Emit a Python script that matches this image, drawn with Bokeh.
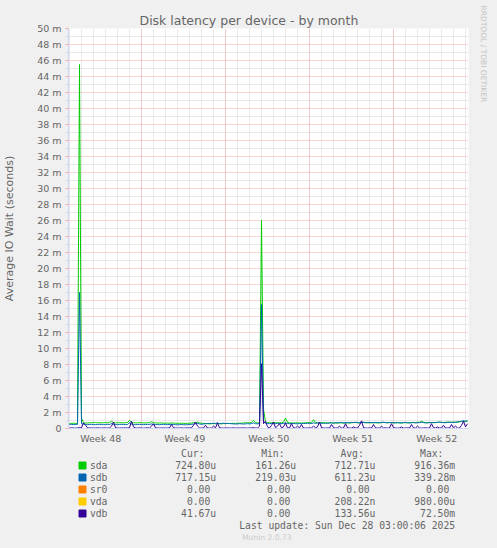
from bokeh.plotting import figure
from bokeh.layouts import column
from bokeh.models import (Range1d, FixedTicker, Title, ColumnDataSource,
                          GlobalInlineStyleSheet)
from bokeh.core.properties import value
from bokeh.embed import file_html
from bokeh.resources import INLINE

# ---------------- data ----------------
# time axis: days since 2025-11-24 00:00, one sample every 4 hours
T_START = 1.0
T_STEP = 1.0 / 6.0
X_MIN, X_MAX = 11.0 / 12.0, 34.25

# values in milliseconds (axis shows seconds with "m" prefix)
sda = [
    0.62, 0.64, 0.66, 0.63, 0.65, 45.5, 1.30, 0.72, 0.68, 0.70,
    0.70, 0.74, 0.72, 0.75, 0.71, 0.73, 0.70, 0.72, 0.74, 0.71,
    0.76, 0.92, 0.74, 0.70, 0.72, 0.71, 0.73, 0.70, 0.72, 0.75,
    1.02, 0.78, 0.72, 0.70, 0.71, 0.74, 0.72, 0.69, 0.70, 0.73,
    0.72, 0.86, 0.74, 0.70, 0.68, 0.69, 0.70, 0.66, 0.68, 0.67,
    0.66, 0.70, 0.68, 0.65, 0.66, 0.64, 0.66, 0.65, 0.63, 0.64,
    0.66, 0.68, 0.72, 0.70, 0.82, 0.70, 0.66, 0.64, 0.62, 0.60,
    0.58, 0.60, 0.62, 0.59, 0.61, 0.60, 0.58, 0.62, 0.60, 0.63,
    0.62, 0.64, 0.66, 0.63, 0.65, 0.68, 0.66, 0.70, 0.72, 0.74,
    0.70, 0.76, 1.02, 0.74, 0.70, 0.72, 26.0, 2.40, 0.80, 0.74,
    0.72, 0.70, 0.76, 0.72, 0.70, 0.74, 0.72, 0.78, 1.30, 0.76,
    0.72, 0.70, 0.68, 0.70, 0.72, 0.70, 0.68, 0.70, 0.72, 0.74,
    0.72, 0.76, 1.10, 0.74, 0.72, 0.70, 0.72, 0.74, 0.70, 0.68,
    0.70, 0.72, 0.66, 0.68, 0.70, 0.72, 0.70, 0.68, 0.72, 0.70,
    0.68, 0.72, 0.74, 0.76, 0.72, 0.70, 0.74, 0.78, 0.74, 0.72,
    0.70, 0.72, 0.74, 0.72, 0.70, 0.72, 0.74, 0.76, 0.74, 0.72,
    0.74, 0.72, 0.70, 0.74, 0.72, 0.70, 0.68, 0.72, 0.74, 0.70,
    0.72, 0.74, 0.76, 0.74, 0.78, 0.76, 0.90, 0.78, 0.74, 0.72,
    0.74, 0.76, 0.72, 0.74, 0.76, 0.78, 0.76, 0.74, 0.78, 0.80,
    0.78, 0.80, 0.76, 0.82, 0.80, 0.84, 0.88, 0.82, 0.90, 0.86,
]
sdb = [
    0.50, 0.52, 0.48, 0.50, 0.52, 17.0, 0.60, 0.56, 0.50, 0.48,
    0.50, 0.52, 0.50, 0.48, 0.50, 0.52, 0.50, 0.48, 0.50, 0.52,
    0.50, 0.62, 0.52, 0.50, 0.48, 0.50, 0.52, 0.50, 0.48, 0.50,
    0.72, 0.56, 0.50, 0.48, 0.50, 0.52, 0.50, 0.48, 0.50, 0.52,
    0.50, 0.58, 0.50, 0.48, 0.50, 0.48, 0.50, 0.52, 0.50, 0.48,
    0.50, 0.52, 0.50, 0.48, 0.46, 0.48, 0.50, 0.48, 0.46, 0.48,
    0.50, 0.52, 0.56, 0.60, 0.64, 0.58, 0.52, 0.56, 0.60, 0.62,
    0.64, 0.62, 0.66, 0.64, 0.70, 0.62, 0.64, 0.66, 0.62, 0.64,
    0.62, 0.60, 0.58, 0.56, 0.58, 0.60, 0.58, 0.56, 0.58, 0.60,
    0.58, 0.62, 0.70, 0.60, 0.58, 0.62, 15.5, 0.90, 0.66, 0.62,
    0.60, 0.64, 0.62, 0.60, 0.66, 0.62, 0.60, 0.64, 0.70, 0.62,
    0.60, 0.62, 0.64, 0.60, 0.58, 0.62, 0.60, 0.64, 0.62, 0.66,
    0.64, 0.62, 0.70, 0.66, 0.68, 0.72, 0.66, 0.64, 0.68, 0.66,
    0.70, 0.72, 0.68, 0.74, 0.70, 0.72, 0.76, 0.70, 0.72, 0.74,
    0.72, 0.76, 0.74, 0.78, 0.74, 0.72, 0.80, 0.76, 0.72, 0.74,
    0.76, 0.74, 0.72, 0.76, 0.74, 0.72, 0.76, 0.78, 0.74, 0.72,
    0.74, 0.76, 0.72, 0.70, 0.74, 0.72, 0.70, 0.74, 0.76, 0.72,
    0.70, 0.72, 0.74, 0.70, 0.72, 0.74, 0.78, 0.74, 0.70, 0.72,
    0.74, 0.72, 0.76, 0.74, 0.78, 0.80, 0.76, 0.74, 0.72, 0.76,
    0.78, 0.74, 0.80, 0.76, 0.82, 0.86, 0.90, 1.00, 0.88, 1.02,
]
sr0 = [
    0, 0, 0, 0, 0, 0, 0, 0, 0, 0, 0, 0, 0, 0, 0, 0, 0, 0, 0, 0,
    0, 0, 0, 0, 0, 0, 0, 0, 0, 0, 0, 0, 0, 0, 0, 0, 0, 0, 0, 0,
    0, 0, 0, 0, 0, 0, 0, 0, 0, 0, 0, 0, 0, 0, 0, 0, 0, 0, 0, 0,
    0, 0, 0, 0, 0, 0, 0, 0, 0, 0, 0, 0, 0, 0, 0, 0, 0, 0, 0, 0,
    0, 0, 0, 0, 0, 0, 0, 0, 0, 0, 0, 0, 0, 0, 0, 0, 0, 0, 0, 0,
    0, 0, 0, 0, 0, 0, 0, 0, 0, 0, 0, 0, 0, 0, 0, 0, 0, 0, 0, 0,
    0, 0, 0, 0, 0, 0, 0, 0, 0, 0, 0, 0, 0, 0, 0, 0, 0, 0, 0, 0,
    0, 0, 0, 0, 0, 0, 0, 0, 0, 0, 0, 0, 0, 0, 0, 0, 0, 0, 0, 0,
    0, 0, 0, 0, 0, 0, 0, 0, 0, 0, 0, 0, 0, 0, 0, 0, 0, 0, 0, 0,
    0, 0, 0, 0, 0, 0, 0, 0, 0, 0, 0, 0, 0, 0, 0, 0, 0, 0, 0, 0,
]
vda = [
    0, 0, 0, 0, 0, 0, 0, 0, 0, 0, 0, 0, 0, 0, 0, 0, 0, 0, 0, 0,
    0, 0, 0, 0, 0, 0, 0, 0, 0, 0, 0, 0, 0, 0, 0, 0, 0, 0, 0, 0,
    0, 0, 0, 0, 0, 0, 0, 0, 0, 0, 0, 0, 0, 0, 0, 0, 0, 0, 0, 0,
    0, 0, 0, 0, 0, 0, 0, 0, 0, 0, 0, 0, 0, 0, 0, 0, 0, 0, 0, 0,
    0, 0, 0, 0, 0, 0, 0, 0, 0, 0, 0, 0, 0, 0, 0, 0, 0.01, 0, 0, 0,
    0, 0, 0, 0, 0, 0, 0, 0, 0, 0, 0, 0, 0, 0, 0, 0, 0, 0, 0, 0,
    0, 0, 0, 0, 0, 0, 0, 0, 0, 0, 0, 0, 0, 0, 0, 0, 0, 0, 0, 0,
    0, 0, 0, 0, 0, 0, 0, 0, 0, 0, 0, 0, 0, 0, 0, 0, 0, 0, 0, 0,
    0, 0, 0, 0, 0, 0, 0, 0, 0, 0, 0, 0, 0, 0, 0, 0, 0, 0, 0, 0,
    0, 0, 0, 0, 0, 0, 0, 0, 0, 0, 0, 0, 0, 0, 0, 0, 0, 0, 0, 0,
]
vdb = [
    0.06, 0.08, 0.06, 0.05, 0.07, 0.10, 0.08, 0.70, 0.40, 0.08,
    0.06, 0.07, 0.05, 0.06, 0.08, 0.06, 0.05, 0.07, 0.06, 0.05,
    0.08, 0.30, 0.80, 0.10, 0.06, 0.05, 0.07, 0.06, 0.08, 0.06,
    0.10, 0.90, 0.20, 0.06, 0.05, 0.07, 0.06, 0.05, 0.06, 0.08,
    0.06, 0.30, 0.60, 0.08, 0.06, 0.05, 0.06, 0.07, 0.05, 0.06,
    0.08, 0.50, 0.10, 0.06, 0.05, 0.06, 0.07, 0.05, 0.06, 0.08,
    0.06, 0.10, 0.40, 0.80, 0.30, 0.06, 0.05, 0.07, 0.40, 0.06,
    0.05, 0.06, 0.30, 0.08, 0.70, 0.10, 0.06, 0.05, 0.06, 0.07,
    0.05, 0.06, 0.08, 0.06, 0.05, 0.07, 0.06, 0.08, 0.06, 0.05,
    0.06, 0.08, 0.10, 0.06, 0.05, 0.30, 8.10, 0.60, 0.90, 0.20,
    0.08, 0.40, 0.80, 0.10, 0.30, 0.60, 0.08, 0.20, 0.70, 0.10,
    0.06, 0.60, 0.10, 0.06, 0.30, 0.08, 0.50, 0.06, 0.05, 0.07,
    0.06, 0.08, 0.30, 0.10, 0.20, 0.80, 0.10, 0.06, 0.05, 0.07,
    0.06, 0.50, 0.10, 0.06, 0.08, 0.30, 0.05, 0.06, 0.60, 0.08,
    0.06, 0.05, 0.20, 0.07, 0.06, 0.40, 0.95, 0.10, 0.06, 0.05,
    0.07, 0.06, 0.50, 0.08, 0.06, 0.05, 0.30, 0.06, 0.08, 0.05,
    0.06, 0.60, 0.10, 0.06, 0.05, 0.07, 0.20, 0.06, 0.05, 0.08,
    0.06, 0.50, 0.08, 0.06, 0.30, 0.07, 0.05, 0.06, 0.08, 0.06,
    0.05, 0.60, 0.10, 0.06, 0.20, 0.07, 0.05, 0.40, 0.06, 0.08,
    0.06, 0.50, 0.08, 0.30, 0.06, 0.05, 0.40, 0.90, 0.20, 0.60,
]

series_names = ["sda", "sdb", "sr0", "vda", "vdb"]
series_colors = ["#00CC00", "#0066B3", "#FF8000", "#FFCC00", "#330099"]
series_values = [sda, sdb, sr0, vda, vdb]

cur_vals = ["724.80u", "717.15u", "0.00", "0.00", "41.67u"]
min_vals = ["161.26u", "219.03u", "0.00", "0.00", "0.00"]
avg_vals = ["712.71u", "611.23u", "0.00", "208.22n", "133.56u"]
max_vals = ["916.36m", "339.28m", "0.00", "980.00u", "72.50m"]
col_headers = ["Cur:", "Min:", "Avg:", "Max:"]

y_ticks = list(range(0, 51, 2))
y_minor = list(range(1, 50, 2))
y_tick_labels = {v: ("0" if v == 0 else f"{v} m") for v in y_ticks}

week_label_pos = [3.6, 10.6, 17.6, 24.6, 31.6]
week_labels = ["Week 48", "Week 49", "Week 50", "Week 51", "Week 52"]
week_starts = [7, 14, 21, 28]
day_ticks = list(range(1, 35))

TITLE = "Disk latency per device - by month"
Y_LABEL = "Average IO Wait (seconds)"
WATERMARK = "RRDTOOL / TOBI OETIKER"
FOOTER = "Munin 2.0.73"
LAST_UPDATE = "Last update: Sun Dec 28 03:00:06 2025"

# ---------------- styling ----------------
BACK = "#F0F0F0"
FONT = "#666666"
AXIS = "#CFD6F8"
MGRID = "#F4AAAA"
GRID = "#D2D2D2"
SANS = "DejaVu Sans"
MONO = "DejaVu Sans Mono"

W, H = 497, 548
FL, FT, FW, FH = 67, 28, 400, 400   # frame left/top/width/height (px)
CHART_BOTTOM = 20
CHART_H = FT + FH + CHART_BOTTOM     # 448
LEG_H = H - CHART_H                  # 100

# ---------------- chart ----------------
p = figure(
    frame_width=FW, frame_height=FH,
    min_border_left=FL, min_border_right=W - FL - FW,
    min_border_top=FT, min_border_bottom=CHART_BOTTOM,
    x_range=Range1d(X_MIN, X_MAX), y_range=Range1d(0, 50),
    output_backend="svg", toolbar_location=None, title=TITLE,
)
p.border_fill_color = BACK
p.background_fill_color = "#FFFFFF"
p.outline_line_color = None

p.title.text_font = SANS
p.title.text_font_size = "12.5px"
p.title.text_font_style = "normal"
p.title.text_color = FONT
p.title.align = "left"
p.title.offset = 71
p.title.standoff = 1

wm = Title(text=WATERMARK, align="left", offset=-23, standoff=20,
           text_font=SANS, text_font_size="7.5px", text_font_style="normal",
           text_color="#C4C4C4")
p.add_layout(wm, "right")

# y axis
yax = p.yaxis[0]
yax.ticker = FixedTicker(ticks=y_ticks, minor_ticks=y_minor)
yax.major_label_overrides = y_tick_labels
yax.major_label_text_font = SANS
yax.major_label_text_font_size = "9.5px"
yax.major_label_text_color = FONT
yax.major_tick_in = 0
yax.major_tick_out = 3
yax.major_tick_line_color = MGRID
yax.minor_tick_in = 0
yax.minor_tick_out = 2
yax.minor_tick_line_color = GRID
yax.major_label_standoff = 4
yax.axis_line_color = AXIS
yax.axis_label = Y_LABEL
yax.axis_label_text_font = SANS
yax.axis_label_text_font_size = "11px"
yax.axis_label_text_font_style = "normal"
yax.axis_label_text_color = FONT
yax.axis_label_standoff = 18

# x axis
xax = p.xaxis[0]
xax.ticker = FixedTicker(ticks=week_label_pos)
xax.major_label_overrides = dict(zip(week_label_pos, week_labels))
xax.major_label_text_font = SANS
xax.major_label_text_font_size = "9.5px"
xax.major_label_text_color = FONT
xax.major_tick_in = 0
xax.major_tick_out = 0
xax.minor_tick_in = 0
xax.minor_tick_out = 0
xax.major_tick_line_color = None
xax.minor_tick_line_color = None
xax.major_label_standoff = 4
xax.axis_line_color = AXIS

# grids
p.ygrid.grid_line_color = MGRID
p.ygrid.grid_line_dash = "1 1"
p.ygrid.minor_grid_line_color = GRID
p.ygrid.minor_grid_line_dash = "1 1"
p.xgrid.ticker = FixedTicker(ticks=week_starts, minor_ticks=day_ticks)
p.xgrid.grid_line_color = MGRID
p.xgrid.grid_line_dash = "1 1"
p.xgrid.minor_grid_line_color = GRID
p.xgrid.minor_grid_line_dash = "1 1"

# series (drawn in Munin order: later ones on top)
t = [T_START + i * T_STEP for i in range(len(sda))]
for name, color, vals in zip(series_names, series_colors, series_values):
    p.line(t, vals, line_color=color, line_width=1)

# ---------------- legend table (canvas-pixel coordinates) ----------------
q = figure(
    width=W, height=LEG_H, min_border=0,
    x_range=Range1d(0, W), y_range=Range1d(H, CHART_H),
    output_backend="svg", toolbar_location=None,
)
q.axis.visible = False
q.grid.visible = False
q.outline_line_color = None
q.border_fill_color = BACK
q.background_fill_color = BACK

NB = "\u00a0"
col_right = [184.3, 284.3, 383.3, 482.7]
row_y0, row_dy = 465.0, 12.0
name_x, swatch_x = 26.7, 17.5


def cell(s):
    return s if s[-1].isalpha() else s + NB


rx, ry, rt = [], [], []
for hx, h in zip(col_right, col_headers):
    rx.append(hx); ry.append(row_y0 - row_dy); rt.append(h + NB + NB)
for r in range(len(series_names)):
    cy = row_y0 + r * row_dy
    for hx, vals in zip(col_right, [cur_vals, min_vals, avg_vals, max_vals]):
        rx.append(hx); ry.append(cy); rt.append(cell(vals[r]))
rx.append(col_right[3]); ry.append(row_y0 + 5 * row_dy); rt.append(LAST_UPDATE)

q.text(x="x", y="y", text="t", source=ColumnDataSource(dict(x=rx, y=ry, t=rt)),
       text_align="right", text_baseline="middle", text_font=value(MONO),
       text_font_size=value("9.7px"), text_color=FONT)

ny = [row_y0 + r * row_dy for r in range(len(series_names))]
q.text(x=[name_x] * len(ny), y=ny, text=series_names,
       text_align="left", text_baseline="middle", text_font=value(MONO),
       text_font_size=value("9.7px"), text_color=FONT)
q.scatter(x=[swatch_x] * len(ny), y=ny, marker="square", size=7,
          fill_color=series_colors, line_color=series_colors)

q.text(x=[247.7], y=[536.7], text=[FOOTER], text_align="center", text_baseline="middle",
       text_font=value(SANS), text_font_size=value("7.6px"), text_color="#CCCCCC")

layout = column(p, q, spacing=0)
layout.stylesheets = [GlobalInlineStyleSheet(
    css="html,body{margin:0;padding:0;background:#F0F0F0;overflow:hidden;}")]

open("out.html", "w").write(file_html(layout, INLINE))
